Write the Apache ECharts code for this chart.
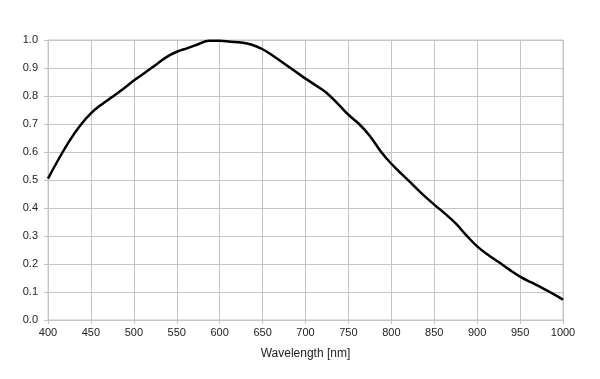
<!DOCTYPE html>
<html>
<head>
<meta charset="utf-8">
<script src="https://cdn.jsdelivr.net/npm/echarts@6/dist/echarts.min.js"></script>
<style>html,body{margin:0;padding:0;background:#fff;}#c{width:600px;height:379px;}</style>
</head>
<body>
<div id="c"></div>
<script>
var wavelengths = [400,412.5,425,437.5,450,462.5,475,487.5,500,512.5,525,537.5,550,562.5,575,587.5,600,612.5,625,637.5,650,662.5,675,687.5,700,712.5,725,737.5,750,762.5,775,787.5,800,812.5,825,837.5,850,862.5,875,887.5,900,912.5,925,937.5,950,962.5,975,987.5,1000];
var response    = [0.505,0.575,0.640,0.695,0.738,0.770,0.797,0.825,0.855,0.882,0.910,0.938,0.958,0.971,0.985,0.997,0.997,0.994,0.991,0.983,0.967,0.943,0.916,0.889,0.862,0.837,0.810,0.773,0.733,0.700,0.657,0.603,0.558,0.520,0.483,0.446,0.412,0.380,0.345,0.302,0.263,0.233,0.207,0.180,0.155,0.135,0.116,0.095,0.073];
var xTicks = [400,1000,50];
var yTicks = [0,1,0.1];
var xName = 'Wavelength [nm]';

var pts = wavelengths.map(function(w,i){return [w,response[i]];});
var chart = echarts.init(document.getElementById('c'), null, {renderer:'canvas'});
var gridColor = '#c4c4c4';
chart.setOption({
  animation:false,
  grid:{left:48,right:37,top:40,bottom:59,show:true,borderColor:gridColor,borderWidth:1},
  xAxis:{type:'value',min:xTicks[0],max:xTicks[1],interval:xTicks[2],
    name:xName,nameLocation:'middle',nameGap:28,
    nameTextStyle:{fontFamily:'Liberation Sans',fontSize:12,color:'#222'},
    axisLine:{show:true,lineStyle:{color:gridColor}},
    axisTick:{show:true,length:4,lineStyle:{color:gridColor}},
    axisLabel:{fontFamily:'Liberation Sans',fontSize:11,color:'#222',margin:7,
      formatter:function(v){return String(v);}},
    splitLine:{show:true,lineStyle:{color:gridColor,width:1}}},
  yAxis:{type:'value',min:yTicks[0],max:yTicks[1],interval:yTicks[2],
    axisLine:{show:true,lineStyle:{color:gridColor}},
    axisTick:{show:true,length:4,lineStyle:{color:gridColor}},
    axisLabel:{fontFamily:'Liberation Sans',fontSize:11,color:'#222',margin:10,
      formatter:function(v){return v.toFixed(1);}},
    splitLine:{show:true,lineStyle:{color:gridColor,width:1}}},
  series:[{type:'line',data:pts,smooth:0.4,symbol:'none',
    lineStyle:{color:'#000',width:2.5}}]
});
</script>
</body>
</html>
